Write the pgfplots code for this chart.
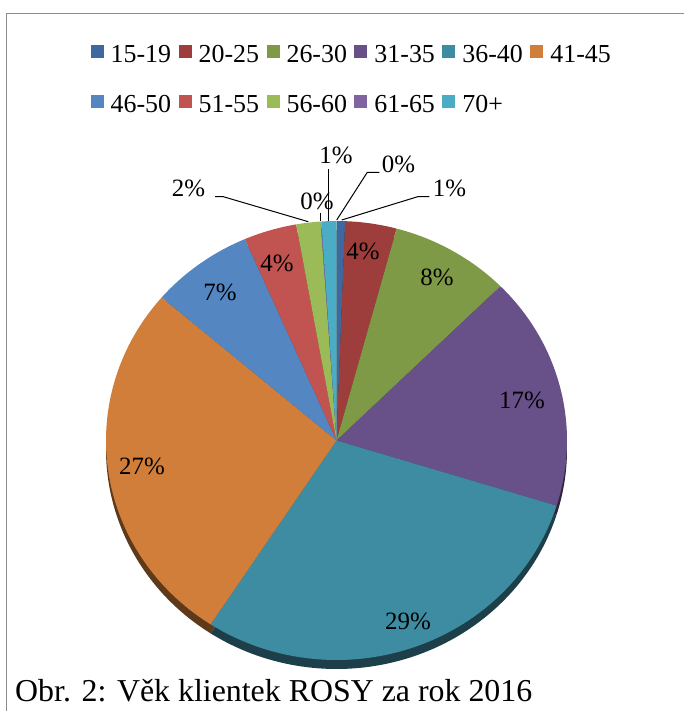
\documentclass[border=0pt]{standalone}
\usepackage{pgfplots}
\usepackage{pgfplotstable}
\pgfplotsset{compat=1.18}
\usepackage{fontspec}
\setmainfont{Liberation Serif}

\definecolor{c1}{RGB}{62,104,160}
\definecolor{c2}{RGB}{157,62,60}
\definecolor{c3}{RGB}{127,154,70}
\definecolor{c4}{RGB}{104,80,136}
\definecolor{c5}{RGB}{62,140,162}
\definecolor{c6}{RGB}{209,126,58}
\definecolor{c7}{RGB}{84,134,194}
\definecolor{c8}{RGB}{193,83,80}
\definecolor{c9}{RGB}{155,187,89}
\definecolor{c10}{RGB}{128,100,162}
\definecolor{c11}{RGB}{75,172,198}
\definecolor{c12}{RGB}{247,150,70}

% share of clients (percent) by age group, clockwise from 12 o'clock
\pgfplotstableread{
age   pct   col
15-19 0.6   c1
20-25 3.6   c2
26-30 8.4   c3
31-35 17.2  c4
36-40 29.4  c5
41-45 27.1  c6
46-50 7.2   c7
51-55 3.7   c8
56-60 1.7   c9
61-65 0.05  c10
70+   1.05  c11
--    0     c12
}\agetable

\newcommand\lbl{\fontsize{25}{30}\selectfont}

\begin{document}
\begin{tikzpicture}
\useasboundingbox (0,0) rectangle (684bp,711bp);
\begin{axis}[
  at={(0,0)}, anchor=south west,
  scale only axis, width=684bp, height=711bp,
  xmin=0, xmax=684, ymin=0, ymax=711, y dir=reverse,
  hide axis, clip=false,
  legend columns=6,
  legend cell align=left,
  legend image code/.code={\fill[#1] (0bp,-3bp) rectangle (13bp,10bp);},
  legend style={at={(axis cs:90.5,44.4)}, anchor=north west, draw=none, fill=none,
    inner sep=0pt, font=\fontsize{26}{30}\selectfont,
    nodes={inner sep=0pt},
    row sep=31bp,
    /tikz/every odd column/.append style={column sep=7bp},
    /tikz/every even column/.append style={column sep=7.5bp}},
]
\pgfplotstablegetrowsof{\agetable}
\pgfmathtruncatemacro\nrows{\pgfplotsretval-1}
% side (3D rim)
\def\cum{0}
\pgfplotsforeachungrouped \i in {0,...,\nrows}{%
  \pgfplotstablegetelem{\i}{pct}\of\agetable \let\val\pgfplotsretval
  \pgfplotstablegetelem{\i}{col}\of\agetable \let\slicecol\pgfplotsretval
  \pgfmathsetmacro\angA{90-3.6*\cum}%
  \pgfmathsetmacro\angB{90-3.6*(\cum+\val)}%
  \edef\temp{\noexpand\fill[\slicecol!45!black] (axis cs:336.5,449.5) -- ++(\angA:230.5bp and 219.5bp) arc[start angle=\angA, end angle=\angB, x radius=230.5bp, y radius=219.5bp] -- cycle;}%
  \temp
  \pgfmathsetmacro\cum{\cum+\val}%
}
% top surface
\def\cum{0}
\pgfplotsforeachungrouped \i in {0,...,\nrows}{%
  \pgfplotstablegetelem{\i}{pct}\of\agetable \let\val\pgfplotsretval
  \pgfplotstablegetelem{\i}{col}\of\agetable \let\slicecol\pgfplotsretval
  \pgfmathsetmacro\angA{90-3.6*\cum}%
  \pgfmathsetmacro\angB{90-3.6*(\cum+\val)}%
  \edef\temp{\noexpand\fill[\slicecol] (axis cs:336.5,440.5) -- ++(\angA:230.5bp and 219.5bp) arc[start angle=\angA, end angle=\angB, x radius=230.5bp, y radius=219.5bp] -- cycle;}%
  \temp
  \pgfmathsetmacro\cum{\cum+\val}%
}

\addlegendimage{fill=c1, draw=none}\addlegendentry{15-19}
\addlegendimage{fill=c2, draw=none}\addlegendentry{20-25}
\addlegendimage{fill=c3, draw=none}\addlegendentry{26-30}
\addlegendimage{fill=c4, draw=none}\addlegendentry{31-35}
\addlegendimage{fill=c5, draw=none}\addlegendentry{36-40}
\addlegendimage{fill=c6, draw=none}\addlegendentry{41-45}
\addlegendimage{fill=c7, draw=none}\addlegendentry{46-50}
\addlegendimage{fill=c8, draw=none}\addlegendentry{51-55}
\addlegendimage{fill=c9, draw=none}\addlegendentry{56-60}
\addlegendimage{fill=c10, draw=none}\addlegendentry{61-65}
\addlegendimage{fill=c11, draw=none}\addlegendentry{70+}

% labels inside slices
\node[font=\lbl] at (axis cs:363,251.7) {4\%};
\node[font=\lbl] at (axis cs:437,277) {8\%};
\node[font=\lbl] at (axis cs:522,400) {17\%};
\node[font=\lbl] at (axis cs:408,621) {29\%};
\node[font=\lbl] at (axis cs:142,466) {27\%};
\node[font=\lbl] at (axis cs:220,292) {7\%};
\node[font=\lbl] at (axis cs:277,263) {4\%};

% outside labels with leader lines
\draw[line width=1bp] (axis cs:215,196.7) -- (axis cs:223.3,196.7) -- (axis cs:308.3,221.7);
\node[font=\lbl, anchor=base] at (axis cs:188.5,196.5) {2\%};
\draw[line width=1bp] (axis cs:320,213.3) -- (axis cs:320,220.7);
\node[font=\lbl, anchor=base] at (axis cs:317,209) {0\%};
\draw[line width=1bp] (axis cs:328.3,169.3) -- (axis cs:328.3,220.7);
\node[font=\lbl, anchor=base] at (axis cs:336,163.3) {1\%};
\draw[line width=1bp] (axis cs:379.3,172.3) -- (axis cs:367.3,172.3) -- (axis cs:336.7,220);
\node[font=\lbl, anchor=base] at (axis cs:398.5,172.7) {0\%};
\draw[line width=1bp] (axis cs:429.3,196.7) -- (axis cs:417.7,196.7) -- (axis cs:341.7,220);
\node[font=\lbl, anchor=base] at (axis cs:449.5,196.7) {1\%};

% caption and frame
\node[anchor=base west, font=\fontsize{32}{36}\selectfont, inner sep=0pt] at (axis cs:15,701.5) {Obr. 2: Věk klientek ROSY za rok 2016};
\draw[black!45, line width=1.3bp] (axis cs:6.7,711) -- (axis cs:6.7,13.3) -- (axis cs:684,13.3);
\end{axis}
\end{tikzpicture}
\end{document}
